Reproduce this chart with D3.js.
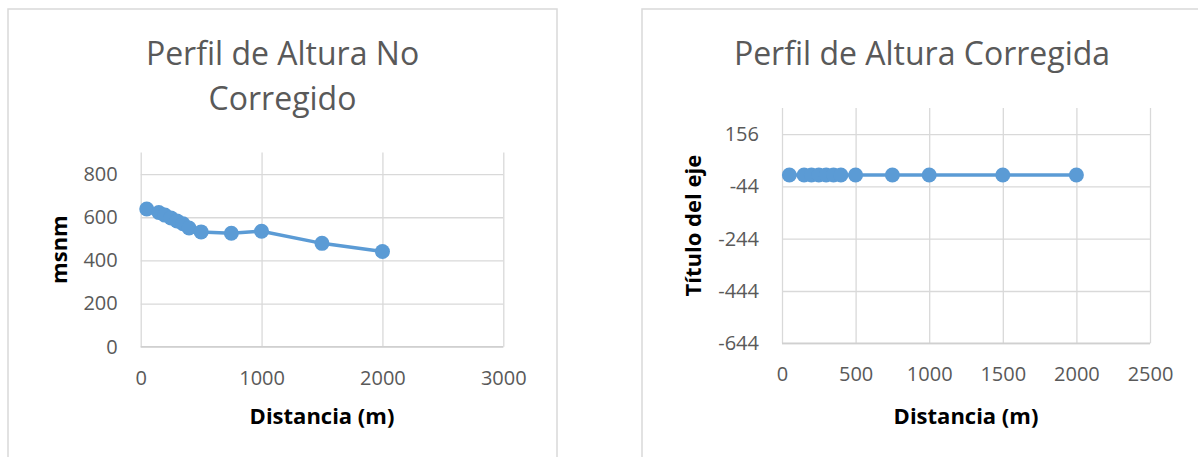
<!DOCTYPE html>
<html>
<head>
<meta charset="utf-8">
<script src="https://cdn.jsdelivr.net/npm/d3@7"></script>
<style>
  body { margin: 0; background: #fff; }
  svg { display: block; font-family: "Open Sans", sans-serif; }
  .tick text { fill: #595959; font-size: 20px; font-family: "Open Sans", sans-serif; }
  .grid line { stroke: #d9d9d9; stroke-width: 1.3; }
  .grid .domain { display: none; }
  .axis .domain { display: none; }
  .axis line { display: none; }
  .chart-title { fill: #595959; font-size: 32px; }
  .axis-label { fill: #000; font-size: 22px; font-weight: bold; }
</style>
</head>
<body>
<div id="chart-data"></div>
<script>
// distancia (m) of each sample point
const distancia = [50, 150, 200, 250, 300, 350, 400, 500, 750, 1000, 1500, 2000];
// altura sin corregir (msnm)
const alturaNoCorregida = [638, 622, 610, 597, 583, 570, 550, 532, 526, 535, 479, 441];
// altura corregida
const alturaCorregida = [0, 0, 0, 0, 0, 0, 0, 0, 0, 0, 0, 0];

const xTicksLeft = [0, 1000, 2000, 3000];
const yTicksLeft = [0, 200, 400, 600, 800];
const xTicksRight = [0, 500, 1000, 1500, 2000, 2500];
const yTicksRight = [-644, -444, -244, -44, 156];

const titleLeft = ["Perfil de Altura No", "Corregido"];
const titleRight = ["Perfil de Altura Corregida"];

const drawChart = (svg, cfg) => {
  const { box, plot } = cfg;
  const width = plot.right - plot.left;
  const height = plot.bottom - plot.top;

  svg.append("rect")
    .attr("x", box.x)
    .attr("y", box.y)
    .attr("width", box.width)
    .attr("height", 500)
    .attr("fill", "#fff")
    .attr("stroke", "#d9d9d9")
    .attr("stroke-width", 1.5);

  const cx = box.x + box.width / 2;
  svg.append("text")
    .attr("class", "chart-title")
    .attr("text-anchor", "middle")
    .selectAll("tspan")
    .data(cfg.title)
    .enter()
    .append("tspan")
    .attr("x", cx)
    .attr("y", (d, i) => 65 + i * 45)
    .text(d => d);

  const x = d3.scaleLinear().domain(cfg.xDomain).range([0, width]);
  const y = d3.scaleLinear().domain(cfg.yDomain).range([height, 0]);

  const g = svg.append("g")
    .attr("transform", `translate(${plot.left},${plot.top})`);

  // vertical grid
  g.append("g")
    .attr("class", "grid")
    .attr("transform", `translate(0,${height})`)
    .call(d3.axisBottom(x).tickValues(cfg.xTicks).tickSize(-height).tickFormat(""));

  // horizontal grid
  g.append("g")
    .attr("class", "grid")
    .call(d3.axisLeft(y).tickValues(cfg.yTicks).tickSize(-width).tickFormat(""));

  // bottom axis line
  g.append("line")
    .attr("x1", 0)
    .attr("x2", width)
    .attr("y1", height)
    .attr("y2", height)
    .attr("stroke", "#d0d0d0")
    .attr("stroke-width", 1.5);

  const fmt = d => String(d);

  const xAxis = g.append("g")
    .attr("class", "axis")
    .attr("transform", `translate(0,${height})`)
    .call(d3.axisBottom(x).tickValues(cfg.xTicks).tickSize(0).tickFormat(fmt));
  xAxis.selectAll("text")
    .attr("y", 38)
    .attr("dy", 0);

  g.append("g")
    .attr("class", "axis")
    .call(d3.axisLeft(y).tickValues(cfg.yTicks).tickSize(0).tickPadding(23).tickFormat(fmt));

  const points = cfg.xs.map((d, i) => [d, cfg.ys[i]]);

  g.append("path")
    .datum(points)
    .attr("fill", "none")
    .attr("stroke", "#5b9bd5")
    .attr("stroke-width", 3.5)
    .attr("stroke-linejoin", "round")
    .attr("d", d3.line().x(d => x(d[0])).y(d => y(d[1])));

  g.selectAll("circle")
    .data(points)
    .enter()
    .append("circle")
    .attr("cx", d => x(d[0]))
    .attr("cy", d => y(d[1]))
    .attr("r", 7.5)
    .attr("fill", "#5b9bd5");

  svg.append("text")
    .attr("class", "axis-label")
    .attr("text-anchor", "middle")
    .attr("x", plot.left + width / 2)
    .attr("y", 424)
    .text(cfg.xLabel);

  svg.append("text")
    .attr("class", "axis-label")
    .attr("text-anchor", "middle")
    .attr("transform", `translate(${box.x + 59},${plot.top + height / 2}) rotate(-90)`)
    .text(cfg.yLabel);
};

const main = () => {
  const svg = d3.select("#chart-data")
    .append("svg")
    .attr("width", 1198)
    .attr("height", 457);

  drawChart(svg, {
    box: { x: 8, y: 9, width: 549 },
    plot: { left: 140.7, right: 503.3, top: 152.5, bottom: 346.7 },
    title: titleLeft,
    xDomain: [0, 3000],
    yDomain: [0, 900],
    xTicks: xTicksLeft,
    yTicks: yTicksLeft,
    xs: distancia,
    ys: alturaNoCorregida,
    xLabel: "Distancia (m)",
    yLabel: "msnm"
  });

  drawChart(svg, {
    box: { x: 642, y: 9, width: 560 },
    plot: { left: 782, right: 1150, top: 108, bottom: 343.3 },
    title: titleRight,
    xDomain: [0, 2500],
    yDomain: [-644, 256],
    xTicks: xTicksRight,
    yTicks: yTicksRight,
    xs: distancia,
    ys: alturaCorregida,
    xLabel: "Distancia (m)",
    yLabel: "Título del eje"
  });
};
window.onload = main;
</script>
</body>
</html>
